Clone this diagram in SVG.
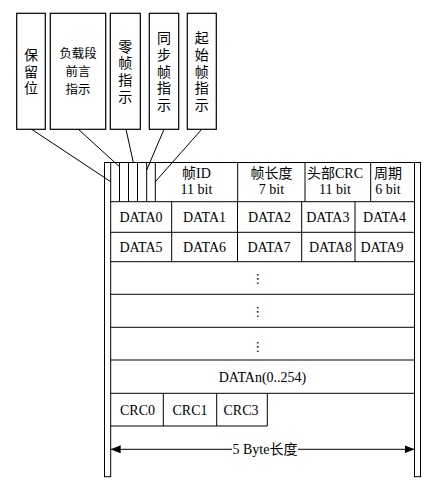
<svg xmlns="http://www.w3.org/2000/svg" width="434" height="481" viewBox="0 0 434 481">
<style>
  .box{fill:#fff;stroke:#000;stroke-width:1.2}
  .ln{stroke:#000;stroke-width:1;fill:none}
  .cjk{font-family:"Noto Sans CJK SC","Noto Sans",sans-serif;font-size:14px;fill:#000;text-anchor:middle}
  .sm{font-size:12.4px}
  .v{writing-mode:vertical-rl;letter-spacing:2.7px}
  .t{font-family:"Liberation Serif","Noto Sans CJK SC",serif;font-size:14px;fill:#000;text-anchor:middle}
  .dots{font-family:"DejaVu Sans",sans-serif;font-size:13px;fill:#000;text-anchor:middle}
</style>
<defs>
  <marker id="ah" viewBox="0 0 10 8" refX="10" refY="4" markerWidth="10" markerHeight="8" markerUnits="userSpaceOnUse" orient="auto-start-reverse">
    <path d="M0,0 L10,4 L0,8 Z" fill="#000"/>
  </marker>
</defs>
<rect width="434" height="481" fill="#fff"/>

<g id="node-baoliuwei">
  <rect class="box" x="16.7" y="13.3" width="28.6" height="116"/>
  <text class="cjk v" x="31" y="72.6">保留位</text>
</g>
<g id="node-fuzaiduan">
  <rect class="box" x="50.3" y="13.3" width="55.4" height="116"/>
  <text class="cjk sm" x="78" y="58">负载段</text>
  <text class="cjk sm" x="78" y="76">前言</text>
  <text class="cjk sm" x="78" y="94">指示</text>
</g>
<g id="node-lingzhen">
  <rect class="box" x="110.3" y="13.3" width="30" height="116"/>
  <text class="cjk v" x="125.3" y="72.6">零帧指示</text>
</g>
<g id="node-tongbu">
  <rect class="box" x="149.3" y="13.3" width="29.4" height="116"/>
  <text class="cjk v" x="164" y="72.6">同步帧指示</text>
</g>
<g id="node-qishi">
  <rect class="box" x="187.3" y="13.3" width="29" height="116"/>
  <text class="cjk v" x="201.8" y="72.6">起始帧指示</text>
</g>

<g id="node-frame">
  <rect class="ln" x="104.5" y="162.5" width="6.2" height="314.2"/>
  <rect class="ln" x="414.5" y="162.5" width="6" height="314.2"/>
  <line class="ln" x1="110.7" y1="162.5" x2="414.5" y2="162.5"/>
  <line class="ln" x1="110.7" y1="201.7" x2="414.5" y2="201.7"/>
  <line class="ln" x1="110.7" y1="232.3" x2="414.5" y2="232.3"/>
  <line class="ln" x1="110.7" y1="261.7" x2="414.5" y2="261.7"/>
  <line class="ln" x1="110.7" y1="294.3" x2="414.5" y2="294.3"/>
  <line class="ln" x1="110.7" y1="327.3" x2="414.5" y2="327.3"/>
  <line class="ln" x1="110.7" y1="360" x2="414.5" y2="360"/>
  <line class="ln" x1="110.7" y1="393.3" x2="414.5" y2="393.3"/>
  <line class="ln" x1="110.7" y1="426" x2="267.3" y2="426"/>
  <line class="ln" x1="119.5" y1="162.5" x2="119.5" y2="201.7"/>
  <line class="ln" x1="128.5" y1="162.5" x2="128.5" y2="201.7"/>
  <line class="ln" x1="137.5" y1="162.5" x2="137.5" y2="201.7"/>
  <line class="ln" x1="146.7" y1="162.5" x2="146.7" y2="201.7"/>
  <line class="ln" x1="155.3" y1="162.5" x2="155.3" y2="201.7"/>
  <line class="ln" x1="237.7" y1="162.5" x2="237.7" y2="201.7"/>
  <line class="ln" x1="305" y1="162.5" x2="305" y2="201.7"/>
  <line class="ln" x1="370.7" y1="162.5" x2="370.7" y2="201.7"/>
  <line class="ln" x1="171.7" y1="201.7" x2="171.7" y2="261.7"/>
  <line class="ln" x1="237.5" y1="201.7" x2="237.5" y2="261.7"/>
  <line class="ln" x1="301.7" y1="201.7" x2="301.7" y2="261.7"/>
  <line class="ln" x1="355" y1="201.7" x2="355" y2="261.7"/>
  <line class="ln" x1="163.3" y1="393.3" x2="163.3" y2="426"/>
  <line class="ln" x1="216.7" y1="393.3" x2="216.7" y2="426"/>
  <line class="ln" x1="267.3" y1="393.3" x2="267.3" y2="426"/>

  <text class="t" x="196.5" y="178">帧ID</text>
  <text class="t" x="196.5" y="194">11 bit</text>
  <text class="t" x="271.5" y="178">帧长度</text>
  <text class="t" x="271.5" y="194">7 bit</text>
  <text class="t" x="335" y="178">头部CRC</text>
  <text class="t" x="335" y="194">11 bit</text>
  <text class="t" x="388" y="178">周期</text>
  <text class="t" x="388" y="194">6 bit</text>

  <text class="t" x="141" y="222">DATA0</text>
  <text class="t" x="204.5" y="222">DATA1</text>
  <text class="t" x="269.5" y="222">DATA2</text>
  <text class="t" x="327.8" y="222">DATA3</text>
  <text class="t" x="384.5" y="222">DATA4</text>
  <text class="t" x="141" y="252">DATA5</text>
  <text class="t" x="204.5" y="252">DATA6</text>
  <text class="t" x="269" y="252">DATA7</text>
  <text class="t" x="330.5" y="252">DATA8</text>
  <text class="t" x="382" y="252">DATA9</text>

  <text class="dots" x="257.7" y="283">⋮</text>
  <text class="dots" x="257.7" y="316">⋮</text>
  <text class="dots" x="257.7" y="350.5">⋮</text>

  <text class="t" x="262.5" y="382">DATAn(0..254)</text>

  <text class="t" x="137.5" y="414.6">CRC0</text>
  <text class="t" x="190" y="414.6">CRC1</text>
  <text class="t" x="241" y="414.6">CRC3</text>

  <text class="t" x="265" y="454">5 Byte长度</text>
</g>

<g id="connectors">
  <line class="ln" x1="31.7" y1="129.3" x2="110.7" y2="181.7"/>
  <line class="ln" x1="78.3" y1="129.3" x2="119.5" y2="166.7"/>
  <line class="ln" x1="126" y1="129.3" x2="133.3" y2="162.5"/>
  <line class="ln" x1="164" y1="129.3" x2="146.7" y2="170"/>
  <line class="ln" x1="201.7" y1="129.3" x2="155.3" y2="181.7"/>
  <line class="ln" x1="232" y1="449.3" x2="110.7" y2="449.3" marker-end="url(#ah)"/>
  <line class="ln" x1="298" y1="449.3" x2="414.5" y2="449.3" marker-end="url(#ah)"/>
</g>
</svg>
